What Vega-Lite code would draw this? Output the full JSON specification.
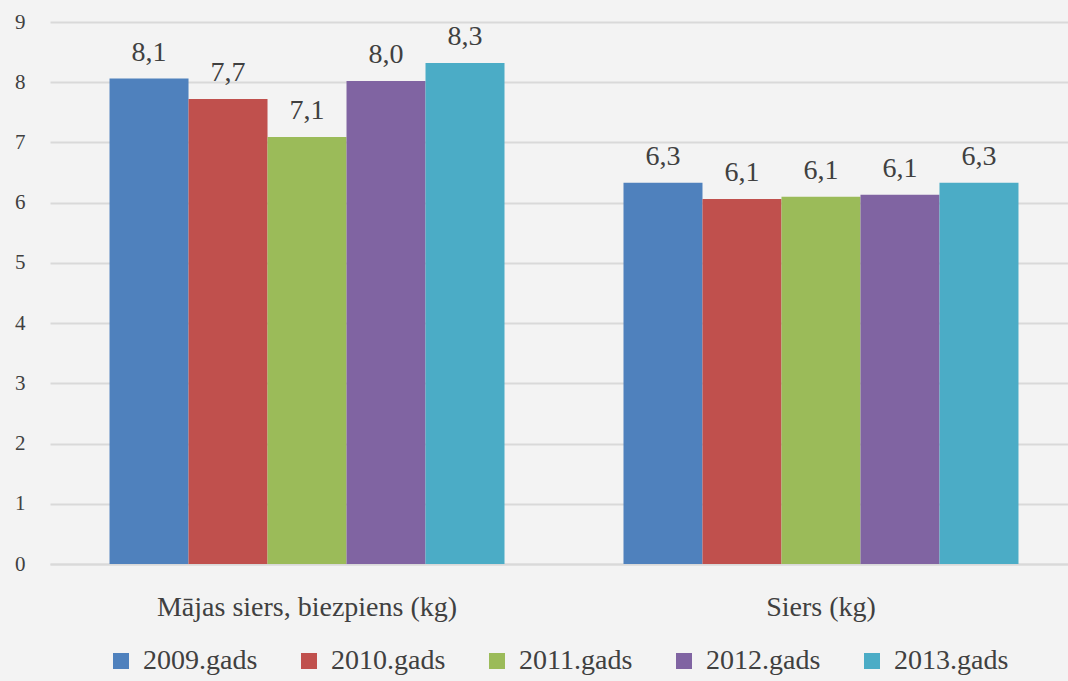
{
  "$schema": "https://vega.github.io/schema/vega-lite/v6.json",
  "autosize": "none",
  "width": 1028,
  "height": 542,
  "padding": {"left": 50, "top": 22, "right": 0, "bottom": 117},
  "background": "#f3f3f3",
  "config": {
    "view": {"stroke": null},
    "font": "Liberation Serif",
    "locale": {"number": {"decimal": ",", "thousands": " ", "grouping": [3], "currency": ["", " €"]}}
  },
  "data": {
    "values": [
      {"kategorija": "Mājas siers, biezpiens (kg)", "gads": "2009.gads", "vertiba": 8.06},
      {"kategorija": "Mājas siers, biezpiens (kg)", "gads": "2010.gads", "vertiba": 7.72},
      {"kategorija": "Mājas siers, biezpiens (kg)", "gads": "2011.gads", "vertiba": 7.09},
      {"kategorija": "Mājas siers, biezpiens (kg)", "gads": "2012.gads", "vertiba": 8.02},
      {"kategorija": "Mājas siers, biezpiens (kg)", "gads": "2013.gads", "vertiba": 8.32},
      {"kategorija": "Siers (kg)", "gads": "2009.gads", "vertiba": 6.33},
      {"kategorija": "Siers (kg)", "gads": "2010.gads", "vertiba": 6.06},
      {"kategorija": "Siers (kg)", "gads": "2011.gads", "vertiba": 6.1},
      {"kategorija": "Siers (kg)", "gads": "2012.gads", "vertiba": 6.13},
      {"kategorija": "Siers (kg)", "gads": "2013.gads", "vertiba": 6.33}
    ]
  },
  "encoding": {
    "x": {
      "field": "kategorija", "type": "nominal", "title": null,
      "scale": {"paddingInner": 0.2315, "paddingOuter": 0.1158},
      "axis": {"labelAngle": 0, "labelFontSize": 28, "labelColor": "#404040", "labelPadding": 29, "labelLimit": 0, "ticks": false, "domainColor": "#d9d9d9", "domainWidth": 2}
    },
    "xOffset": {"field": "gads", "type": "nominal"},
    "y": {
      "field": "vertiba", "type": "quantitative", "title": null,
      "scale": {"domain": [0, 9], "nice": false},
      "axis": {"values": [0,1,2,3,4,5,6,7,8,9], "labelOverlap": false, "labelFontSize": 21, "labelColor": "#404040", "labelPadding": 25, "ticks": false, "domain": false, "gridColor": "#d9d9d9", "gridWidth": 2}
    }
  },
  "layer": [
    {
      "mark": {"type": "bar"},
      "encoding": {
        "color": {
          "field": "gads", "type": "nominal", "title": null,
          "scale": {"range": ["#4f81bd", "#c0504d", "#9bbb59", "#8064a2", "#4bacc6"]},
          "legend": {
            "orient": "none", "legendX": 57, "legendY": 625, "direction": "horizontal",
            "symbolType": "square", "symbolSize": 256, "symbolStrokeWidth": 0,
            "labelFontSize": 28, "labelColor": "#404040", "labelOffset": 8, "labelLimit": 0,
            "columnPadding": 37
          }
        }
      }
    },
    {
      "mark": {"type": "text", "dy": -26, "fontSize": 28, "color": "#404040"},
      "encoding": {
        "text": {"field": "vertiba", "type": "quantitative", "format": ".1f"}
      }
    }
  ]
}
